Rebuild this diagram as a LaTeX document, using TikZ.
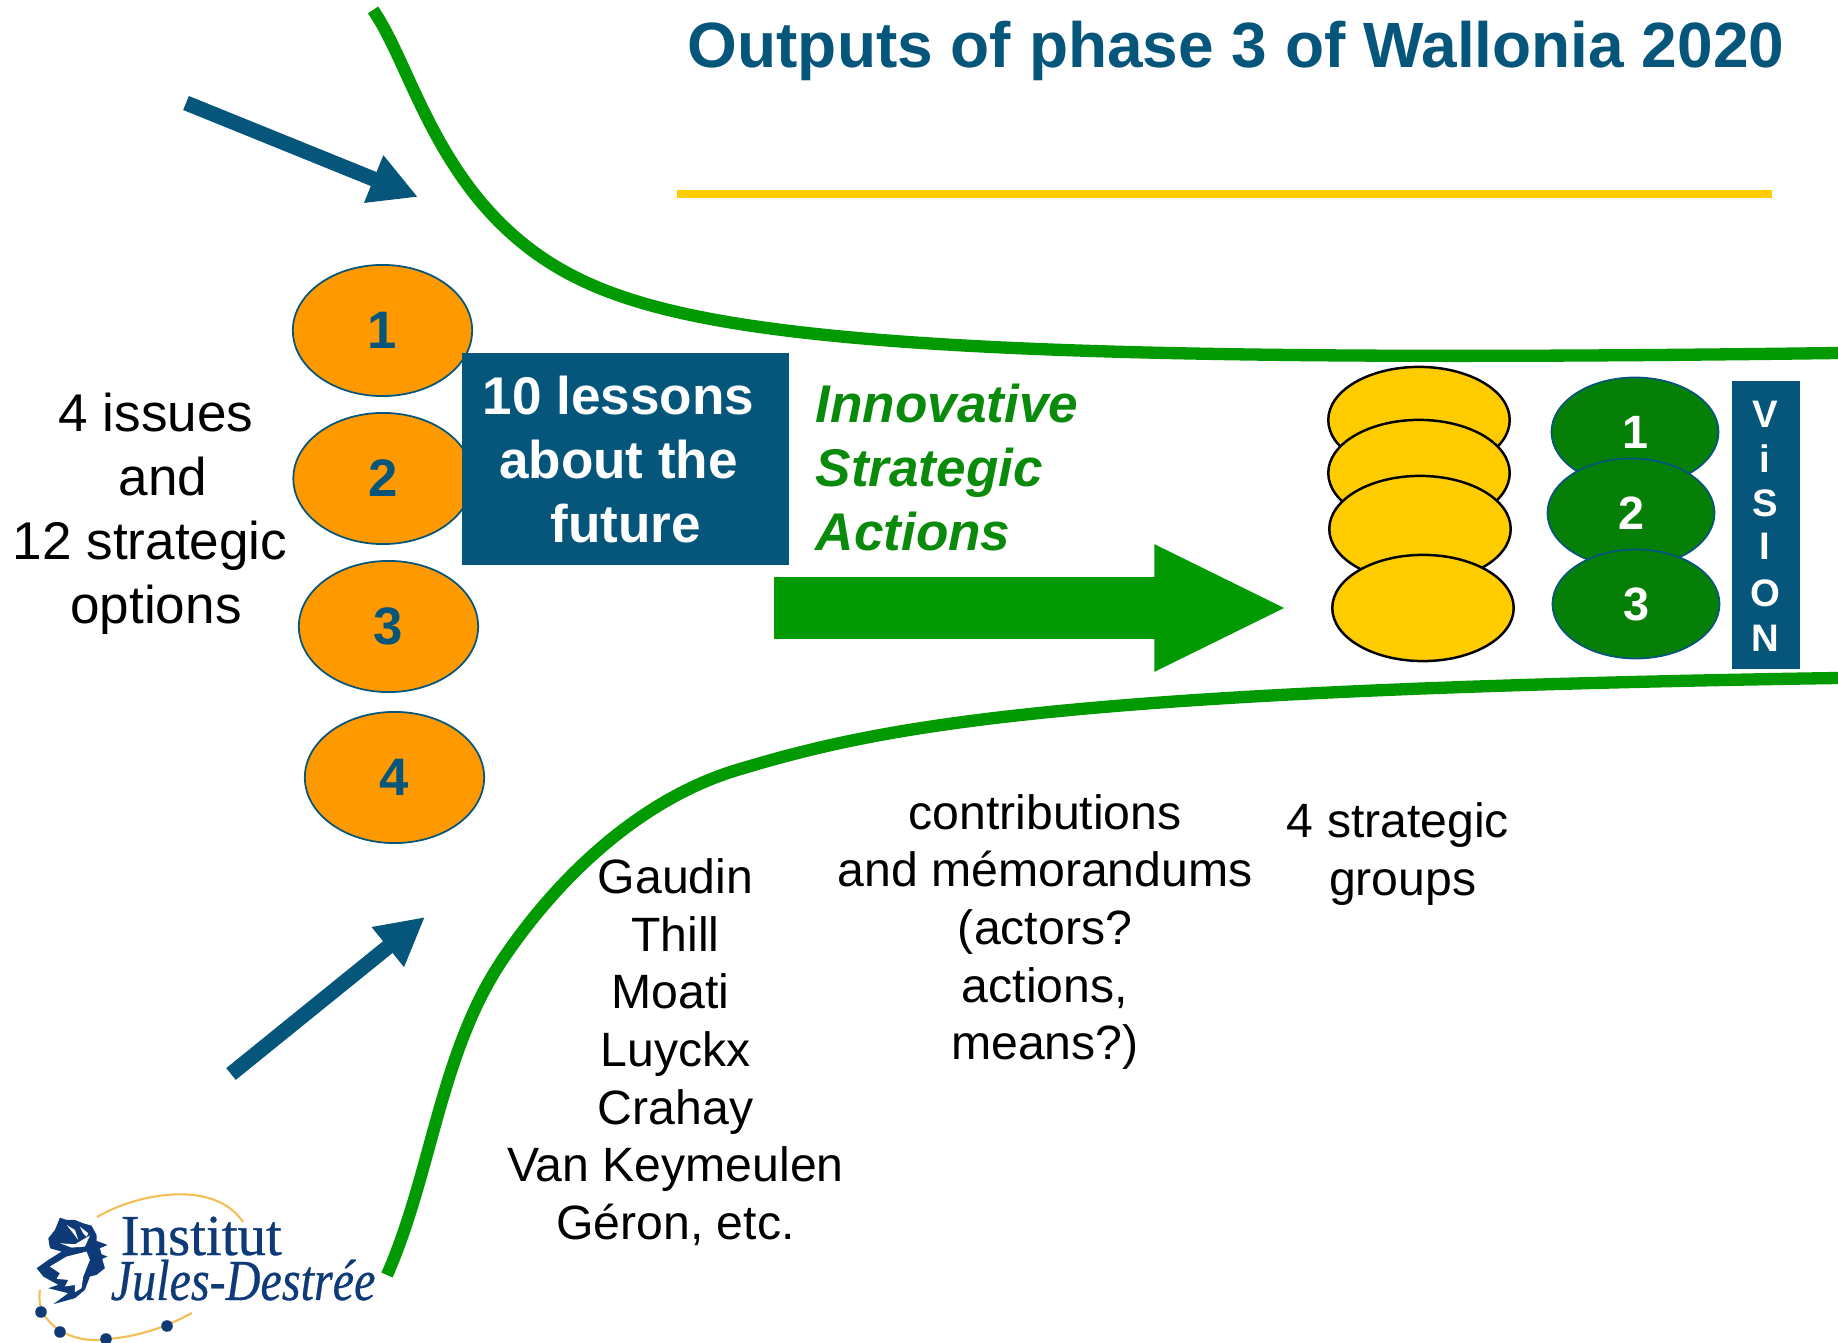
\documentclass[tikz,border=0pt]{standalone}
\usepackage{fontspec}
\setmainfont{Liberation Sans}
\newfontfamily\logofont[FakeBold=0.5]{Liberation Serif}
\usetikzlibrary{arrows.meta, positioning, shapes.geometric}

\definecolor{deepblue}{HTML}{05567A}
\definecolor{linegreen}{HTML}{029A02}
\definecolor{darkgreen}{HTML}{067F06}
\definecolor{textgreen}{HTML}{0A8A0A}
\definecolor{issueorange}{HTML}{FF9900}
\definecolor{groupyellow}{HTML}{FFCC00}
\definecolor{logoblue}{HTML}{0F3A78}
\definecolor{logogold}{HTML}{F2BE55}

\begin{document}
\begin{tikzpicture}[
  x=0.01cm, y=-0.01cm,
  issue/.style = {ellipse, draw=deepblue, fill=issueorange, line width=0.5pt, minimum width=51pt, minimum height=37.3pt, inner sep=0pt, text=deepblue, font=\fontsize{15}{18}\selectfont\bfseries},
  group/.style = {ellipse, draw=black, fill=groupyellow, line width=0.7pt, minimum width=51.6pt, minimum height=30.2pt, inner sep=0pt},
  axis/.style = {ellipse, draw=deepblue, fill=darkgreen, line width=0.5pt, minimum width=47.5pt, minimum height=31pt, inner sep=0pt, text=white, font=\fontsize{13.3}{16}\selectfont\bfseries},
  body/.style = {align=center, inner sep=0pt, font=\fontsize{15.1}{18.2}\selectfont},
  small/.style = {align=center, inner sep=0pt, font=\fontsize{13.7}{16.4}\selectfont},
  funnel/.style = {linegreen, line width=3.5pt},
  pointer/.style = {deepblue, line width=4.3pt, -{Triangle[length=13.6pt,width=13.6pt]}},
  letter/.style = {white, inner sep=0pt, font=\fontsize{10.9}{13}\selectfont\bfseries}
]
  \useasboundingbox (0,0) rectangle (1838,1343);

  % Title
  \node[anchor=east, inner sep=0pt, text=deepblue, font=\fontsize{18.2}{22}\selectfont\bfseries] (title) at (1785,51) {Outputs of phase 3 of Wallonia 2020};
  \coordinate (rule_l) at (677,194);
  \coordinate (rule_r) at (1772,194);
  \draw[groupyellow, line width=2.2pt] (rule_l) -- (rule_r);

  % Funnel
  \coordinate (top_a) at (373,10);
  \coordinate (top_b) at (1838,353);
  \coordinate (bot_a) at (387,1275);
  \coordinate (bot_b) at (1838,678);
  \draw[funnel] (top_a) .. controls (415,70) and (440,210) .. (577,278) .. controls (700,339) and (950,365) .. (top_b);
  \draw[funnel] (bot_a) .. controls (432,1173) and (440,1052) .. (503,959) .. controls (559,876) and (641,799) .. (737,770) .. controls (880,727) and (1050,690) .. (bot_b);

  % Pointers
  \coordinate (ptr1_a) at (186,103);
  \coordinate (ptr1_b) at (418,197);
  \coordinate (ptr2_a) at (231,1074);
  \coordinate (ptr2_b) at (425,917);
  \draw[pointer] (ptr1_a) -- (ptr1_b);
  \draw[pointer] (ptr2_a) -- (ptr2_b);

  % Issues
  \node[issue] (i1) at (382.5,330.5) {1};
  \node[issue] (i2) at (383,478.5) {2};
  \node[issue] (i3) at (388.5,626.5) {3};
  \node[issue] (i4) at (394.5,777.5) {4};
  \node[body] (issues) at (150,514) {\hspace*{3.4pt}4 issues\\\hspace*{7.3pt}and\\12 strategic\\\hspace*{3.4pt}options};

  % Lessons
  \node[fill=deepblue, minimum width=93pt, minimum height=60.4pt, inner sep=0pt] (lessons) at (625.5,459) {};
  \node[align=center, inner sep=0pt, text=white, font=\fontsize{15.1}{18.2}\selectfont\bfseries] (lessons_txt) at (618.5,460) {10 lessons\\about the\\\hspace*{4pt}future};
  \node[anchor=west, inner sep=0pt, align=left, text=textgreen, font=\fontsize{15.1}{18.2}\selectfont\bfseries\itshape] (actions) at (815,468) {Innovative\\Strategic\\Actions};

  % Main arrow
  \coordinate (main_a) at (774,608);
  \coordinate (main_b) at (1288,608);
  \draw[linegreen, line width=17.6pt, -{Triangle[length=38pt,width=33.2pt]}] (main_a) -- (main_b);

  % Strategic groups
  \node[group] (g1) at (1419,420) {};
  \node[group] (g2) at (1419,473) {};
  \node[group] (g3) at (1420,529) {};
  \node[group] (g4) at (1423,608) {};

  % Axes
  \node[axis] (a1) at (1635,432) {1};
  \node[axis] (a2) at (1631,513) {2};
  \node[axis] (a3) at (1636,604) {3};

  % Vision
  \node[fill=deepblue, minimum width=19.4pt, minimum height=82pt, inner sep=0pt] (vision) at (1766,525) {};
  \node[letter] (v_v) at (1765,414) {V};
  \node[letter] (v_i) at (1765,459) {i};
  \node[letter] (v_s) at (1765,503) {S};
  \node[letter] (v_j) at (1765,546) {I};
  \node[letter] (v_o) at (1765,593) {O};
  \node[letter] (v_n) at (1765,638) {N};

  % Lower texts
  \node[small] (names) at (675.5,1052) {Gaudin\\Thill\\\hspace*{-3pt}Moati\\Luyckx\\Crahay\\Van Keymeulen\\Géron, etc.};
  \node[small] (contrib) at (1045,932) {contributions\\and mémorandums\\(actors?\\actions,\\means?)};
  \node[small] (groups) at (1398,854) {4 strategic\\\hspace*{2.7pt}groups};

  % Logo
  \draw[logogold, line width=0.6pt] (97,1217) .. controls (140,1192) and (215,1180) .. (243,1222);
  \draw[logogold, line width=0.6pt] (40,1290) .. controls (34,1325) and (75,1345) .. (106,1339) .. controls (140,1337) and (170,1325) .. (192,1313);
  \begin{scope}[shift={(25,1205)}, x=0.00333cm, y=-0.00333cm]
    \fill[logoblue] (105,38) -- (125,45) -- (150,45) -- (175,55) -- (200,62) -- (215,90) -- (215,108) -- (248,120) -- (225,130) -- (230,148) -- (248,155) -- (232,162) -- (240,190) -- (215,210) -- (195,215) -- (180,255) -- (150,280) -- (85,298) -- (130,265) -- (70,250) -- (100,240) -- (55,215) -- (35,190) -- (70,165) -- (110,140) -- (75,130) -- (70,100) -- (90,75) -- cycle;
    \fill[white] (105,115) -- (150,118) -- (195,92) -- (180,125) -- (140,128) -- cycle;
    \fill[white] (125,60) -- (150,75) -- (160,105) -- (145,85) -- cycle;
    \fill[white] (165,65) -- (190,85) -- (185,95) -- (175,85) -- cycle;
    \fill[white] (75,185) -- (125,155) -- (185,140) -- (195,165) -- (175,215) -- (170,250) -- (150,262) -- (150,240) -- (120,245) -- (130,225) -- (95,222) -- (105,205) -- cycle;
  \end{scope}
  \node[anchor=base west, inner sep=0pt, text=logoblue, font=\logofont\fontsize{16.5}{20}\selectfont] (logo1) at (120,1255) {\scalebox{.98}[1]{Institut}};
  \node[anchor=base west, inner sep=0pt, text=logoblue, font=\logofont\itshape\fontsize{16.5}{20}\selectfont] (logo2) at (110,1300) {\scalebox{.83}[1]{Jules-Destrée}};
  \foreach \dotx/\doty in {41/1312, 60/1332, 106/1339, 167/1326}
    \fill[logoblue] (\dotx,\doty) circle (5.8);
\end{tikzpicture}
\end{document}
